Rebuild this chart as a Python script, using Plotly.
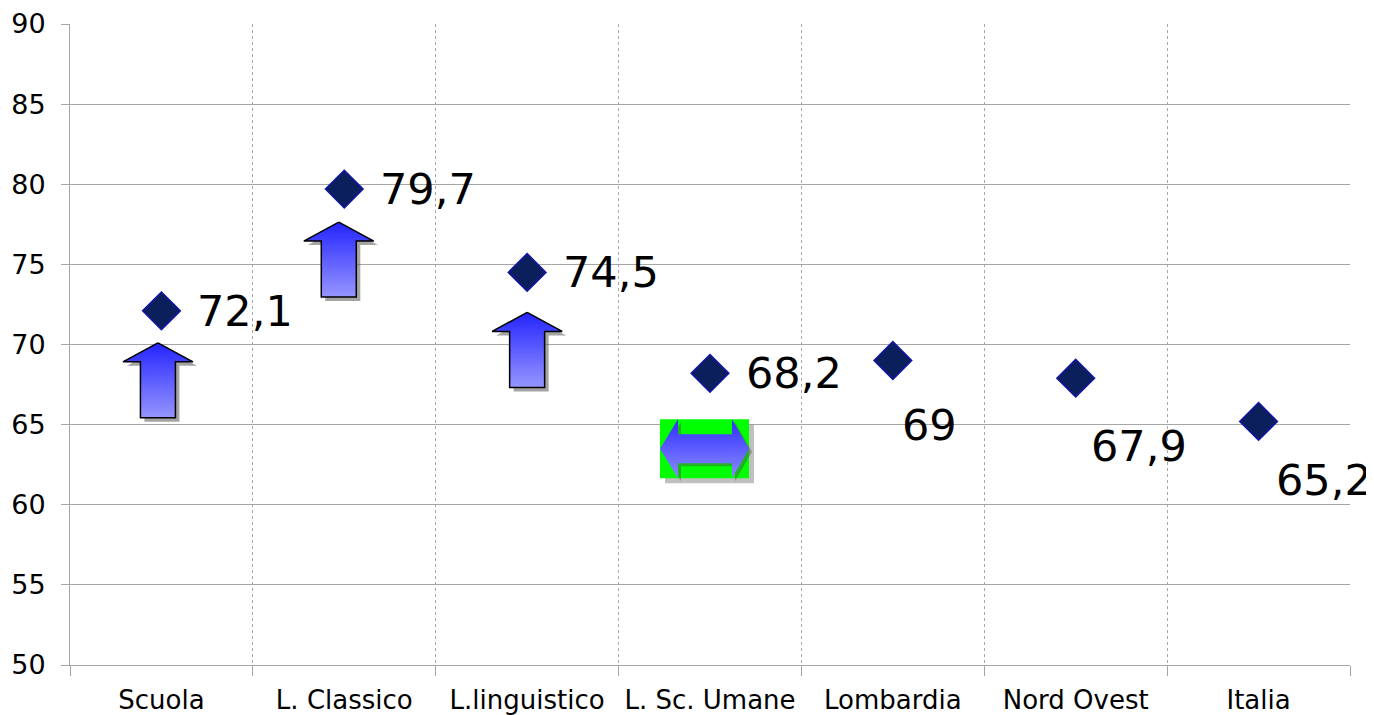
import plotly.graph_objects as go

categories = ["Scuola", "L. Classico", "L.linguistico", "L. Sc. Umane",
              "Lombardia", "Nord Ovest", "Italia"]
values = [72.1, 79.7, 74.5, 68.2, 69.0, 67.9, 65.2]
value_labels = ["72,1", "79,7", "74,5", "68,2", "69", "67,9", "65,2"]
y_ticks = [50, 55, 60, 65, 70, 75, 80, 85, 90]

# label placement (pixels from the marker centre; dy positive = downwards)
label_dx = [34, 34, 34, 34, 7, 13, 15]
label_dy = [0, 0, 0, 0, 64, 68, 59]

# decorative up-arrows (category index, x offset px, gap below marker px)
up_arrow_idx = [0, 1, 2]
up_arrow_dx = [-3.5, -5.5, 0]
up_arrow_gap = [32, 33, 40]
# decorative double arrow on a green box
eq_idx = 3

FONT = "DejaVu Sans"
Y_MIN, Y_MAX = 50, 90
PLOT_W, PLOT_H = 1280, 641
ux = len(categories) / PLOT_W          # data units per pixel (x)
uy = (Y_MAX - Y_MIN) / PLOT_H          # data units per pixel (y)


def poly(idx, val, pts, ox=0.0, oy=0.0):
    xs = [idx + (ox + p[0]) * ux for p in pts] + [idx + (ox + pts[0][0]) * ux]
    ys = [val - (oy + p[1]) * uy for p in pts] + [val - (oy + pts[0][1]) * uy]
    return xs, ys


fig = go.Figure()

# up arrows
up_shape = [(0, 0), (35, 19), (17.5, 19), (17.5, 75), (-17.5, 75), (-17.5, 19), (-35, 19)]
for k, i in enumerate(up_arrow_idx):
    pts = [(p[0] + up_arrow_dx[k], p[1] + up_arrow_gap[k]) for p in up_shape]
    xs, ys = poly(i, values[i], pts, 4, 4)
    fig.add_trace(go.Scatter(x=xs, y=ys, mode="lines", fill="toself",
                             fillcolor="rgba(90,90,90,0.55)", line=dict(width=0),
                             hoverinfo="skip"))
    xs, ys = poly(i, values[i], pts)
    fig.add_trace(go.Scatter(x=xs, y=ys, mode="lines", fill="toself",
                             fillgradient=dict(type="vertical",
                                               colorscale=[[0, "#9696ff"], [1, "#2424ff"]]),
                             line=dict(color="black", width=1.5),
                             hoverinfo="skip"))

# green box with double arrow
box = [(-50, 46), (39, 46), (39, 105), (-50, 105)]
xs, ys = poly(eq_idx, values[eq_idx], box, 5, 5)
fig.add_trace(go.Scatter(x=xs, y=ys, mode="lines", fill="toself",
                         fillcolor="rgba(150,150,150,0.6)", line=dict(width=0),
                         hoverinfo="skip"))
xs, ys = poly(eq_idx, values[eq_idx], box)
fig.add_trace(go.Scatter(x=xs, y=ys, mode="lines", fill="toself",
                         fillcolor="#00ff00", line=dict(width=0), hoverinfo="skip"))
dbl = [(-50, 75.5), (-32, 46), (-32, 61), (22, 61), (22, 46), (39, 75.5),
       (22, 105), (22, 90), (-32, 90), (-32, 105)]
xs, ys = poly(eq_idx, values[eq_idx], dbl, 3, 3)
fig.add_trace(go.Scatter(x=xs, y=ys, mode="lines", fill="toself",
                         fillcolor="rgba(80,80,80,0.45)", line=dict(width=0),
                         hoverinfo="skip"))
xs, ys = poly(eq_idx, values[eq_idx], dbl)
fig.add_trace(go.Scatter(x=xs, y=ys, mode="lines", fill="toself",
                         fillgradient=dict(type="vertical",
                                           colorscale=[[0, "#8c8cff"], [1, "#2e2eff"]]),
                         line=dict(width=0), hoverinfo="skip"))

# data markers
fig.add_trace(go.Scatter(
    x=list(range(len(categories))), y=values, mode="markers",
    marker=dict(symbol="diamond", size=29, color="#0b1f5c",
                line=dict(color="#1414a8", width=1.5)),
    hoverinfo="y"))

for i, (v, t) in enumerate(zip(values, value_labels)):
    fig.add_annotation(x=i, y=v, text=t, showarrow=False, xanchor="left",
                       yanchor="middle", xshift=label_dx[i], yshift=-label_dy[i],
                       font=dict(family=FONT, size=43, color="black"))

grid = "#a6a6a6"
fig.update_layout(
    width=1374, height=715,
    margin=dict(l=62, r=32, t=16, b=58),
    paper_bgcolor="white", plot_bgcolor="white",
    showlegend=False,
    font=dict(family=FONT, color="black"),
    xaxis=dict(range=[-0.5, len(categories) - 0.5],
               tickmode="array", tickvals=list(range(len(categories))),
               ticktext=categories, ticks="", showgrid=False,
               showline=True, linecolor=grid, linewidth=1, zeroline=False,
               tickfont=dict(family=FONT, size=26, color="black"),
               ticklabelstandoff=12, automargin=False,
               minor=dict(tickmode="array",
                          tickvals=[i - 0.5 for i in range(len(categories) + 1)],
                          ticks="outside", ticklen=10, tickcolor=grid,
                          showgrid=True, gridcolor=grid, gridwidth=1,
                          griddash="dot")),
    yaxis=dict(range=[Y_MIN, Y_MAX], tickmode="array", tickvals=y_ticks,
               showgrid=True, gridcolor=grid, gridwidth=1,
               ticks="outside", ticklen=8, tickcolor=grid,
               showline=True, linecolor=grid, linewidth=1, zeroline=False,
               tickfont=dict(family=FONT, size=27, color="black"),
               ticklabelstandoff=10, automargin=False),
)

fig.write_html("out.html")
